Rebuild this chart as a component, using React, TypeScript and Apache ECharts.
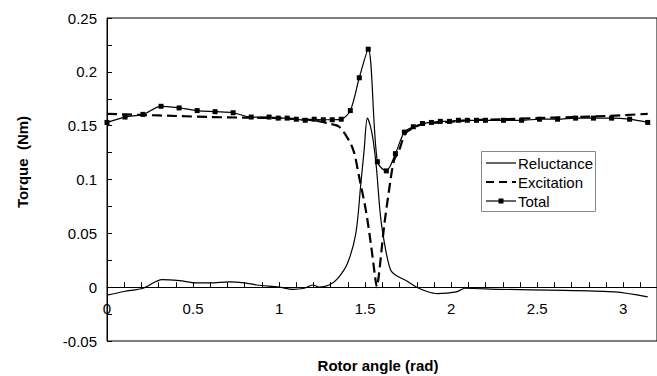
import React, { useEffect, useRef } from "react";
import * as echarts from "echarts";

// Rotor angle (rad) / torque (Nm)
const relAngle = [0, 0.1, 0.21, 0.32, 0.42, 0.52, 0.6, 0.71, 0.8, 0.87, 1.0, 1.08, 1.146, 1.195, 1.233, 1.29, 1.34, 1.397, 1.446, 1.475, 1.494, 1.513, 1.53, 1.546, 1.565, 1.59, 1.62, 1.648, 1.678, 1.735, 1.8, 1.86, 1.92, 2.03, 2.08, 2.28, 2.66, 2.95, 3.142];
const relTorque = [-0.0074, -0.004, -0.001, 0.007, 0.006, 0.004, 0.004, 0.005, 0.004, 0.002, 0.0, -0.002, -0.001, 0.002, 0.0, 0.002, 0.008, 0.022, 0.05, 0.096, 0.127, 0.157, 0.15, 0.137, 0.112, 0.065, 0.034, 0.016, 0.011, 0.0065, 0.0, -0.004, -0.006, -0.0044, -0.001, -0.002, -0.003, -0.0044, -0.009];

const excAngle = [0, 0.2, 0.4, 0.6, 0.8, 1.0, 1.1, 1.2, 1.29, 1.349, 1.407, 1.436, 1.465, 1.504, 1.533, 1.558, 1.568, 1.581, 1.61, 1.639, 1.668, 1.697, 1.735, 1.793, 1.85, 1.95, 2.1, 2.3, 2.5, 2.7, 2.9, 3.142];
const excTorque = [0.161, 0.16, 0.159, 0.158, 0.1575, 0.157, 0.156, 0.155, 0.152, 0.149, 0.136, 0.125, 0.1025, 0.0716, 0.0406, 0.0096, 0.0, 0.013, 0.056, 0.09, 0.118, 0.127, 0.143, 0.149, 0.152, 0.153, 0.155, 0.156, 0.157, 0.158, 0.159, 0.161];

const totAngle = [0, 0.105, 0.209, 0.314, 0.419, 0.524, 0.628, 0.733, 0.838, 0.942, 0.995, 1.047, 1.1, 1.152, 1.204, 1.257, 1.309, 1.361, 1.414, 1.466, 1.518, 1.571, 1.623, 1.676, 1.728, 1.78, 1.833, 1.885, 1.937, 1.99, 2.042, 2.094, 2.147, 2.199, 2.304, 2.409, 2.513, 2.618, 2.723, 2.827, 2.932, 3.037, 3.142];
const totTorque = [0.153, 0.158, 0.1605, 0.168, 0.1665, 0.164, 0.163, 0.162, 0.158, 0.158, 0.157, 0.157, 0.156, 0.155, 0.156, 0.1555, 0.1555, 0.156, 0.164, 0.1945, 0.221, 0.1165, 0.108, 0.124, 0.144, 0.149, 0.152, 0.153, 0.154, 0.154, 0.155, 0.155, 0.155, 0.155, 0.155, 0.155, 0.156, 0.156, 0.157, 0.157, 0.157, 0.156, 0.153];

const seriesNames = ["Reluctance", "Excitation", "Total"];
const xTitle = "Rotor angle (rad)";
const yTitle = "Torque  (Nm)";

const zip = (a: number[], b: number[]) => a.map((v, i) => [v, b[i]]);
const FONT = "'Liberation Sans', Arial, sans-serif";

const Y_MIN = -0.05;
const Y_MAX = 0.25;
const GRID_TOP = 18;
const GRID_BOTTOM = 35;
const H = 376;

export default function App() {
  const ref = useRef<HTMLDivElement>(null);
  useEffect(() => {
    if (!ref.current) return;
    const chart = echarts.init(ref.current, undefined, { renderer: "svg" });
    const plotH = H - GRID_TOP - GRID_BOTTOM;
    const zeroOffset = -(plotH * (0 - Y_MIN)) / (Y_MAX - Y_MIN);

    const legX = 481, legY = 151, legW = 114, legH = 60;
    const rowY = [163, 182, 201];
    const lx0 = 486, lx1 = 516, tx = 518;

    const tickStyle = { color: "#000", width: 1, opacity: 1 };

    chart.setOption({
      animation: false,
      backgroundColor: "#fff",
      grid: {
        left: 107,
        top: GRID_TOP,
        bottom: GRID_BOTTOM,
        right: -2,
        show: true,
        borderColor: "#000",
        borderWidth: 1,
        z: 0,
      },
      xAxis: {
        type: "value",
        min: 0,
        max: 3.196,
        interval: 0.5,
        offset: zeroOffset,
        z: 10,
        axisLine: { show: true, onZero: false, lineStyle: { color: "#000", width: 1 } },
        axisTick: { show: true, inside: true, length: 5, lineStyle: tickStyle },
        minorTick: { show: true, splitNumber: 5, length: 5, lineStyle: tickStyle },
        splitLine: { show: false },
        axisLabel: {
          margin: 14,
          color: "#000",
          fontFamily: FONT,
          fontSize: 15,
          showMaxLabel: false,
          formatter: (v: number) => {
            const d = v * 2;
            return Math.abs(d - Math.round(d)) < 1e-6 && v <= 3.01 ? String(Math.round(d) / 2) : "";
          },
        },
      },
      yAxis: {
        type: "value",
        min: Y_MIN,
        max: Y_MAX,
        interval: 0.05,
        z: 10,
        axisLine: { show: true, onZero: false, lineStyle: { color: "#000", width: 1 } },
        axisTick: { show: true, inside: true, length: 5, lineStyle: tickStyle },
        minorTick: { show: true, splitNumber: 2, length: 5, lineStyle: tickStyle },
        splitLine: { show: false },
        axisLabel: {
          margin: 10,
          color: "#000",
          fontFamily: FONT,
          fontSize: 15,
          formatter: (v: number) => String(Math.round(v * 100) / 100),
        },
      },
      graphic: [
        {
          type: "text",
          x: 378,
          y: 365,
          style: {
            text: xTitle,
            font: `bold 15px ${FONT}`,
            fill: "#000",
            textAlign: "center",
            textVerticalAlign: "middle",
          },
        },
        {
          type: "text",
          x: 22,
          y: 162,
          rotation: Math.PI / 2,
          style: {
            text: yTitle,
            font: `bold 15px ${FONT}`,
            fill: "#000",
            textAlign: "center",
            textVerticalAlign: "middle",
          },
        },
        {
          type: "group",
          z: 100,
          children: [
            {
              type: "rect",
              shape: { x: legX + 0.5, y: legY + 0.5, width: legW, height: legH },
              style: { fill: "#fff", stroke: "#888", lineWidth: 1 },
            },
            {
              type: "line",
              shape: { x1: lx0, y1: rowY[0], x2: lx1, y2: rowY[0] },
              style: { stroke: "#000", lineWidth: 1.2 },
            },
            {
              type: "line",
              shape: { x1: lx0, y1: rowY[1], x2: lx1, y2: rowY[1] },
              style: { stroke: "#000", lineWidth: 2.2, lineDash: [8, 5] },
            },
            {
              type: "line",
              shape: { x1: lx0, y1: rowY[2], x2: lx1, y2: rowY[2] },
              style: { stroke: "#000", lineWidth: 1.2 },
            },
            {
              type: "rect",
              shape: { x: (lx0 + lx1) / 2 - 2.5, y: rowY[2] - 2.5, width: 5, height: 5 },
              style: { fill: "#000" },
            },
            ...seriesNames.map((name, i) => ({
              type: "text",
              x: tx,
              y: rowY[i],
              style: {
                text: name,
                font: `15px ${FONT}`,
                fill: "#000",
                textAlign: "left",
                textVerticalAlign: "middle",
              },
            })),
          ],
        },
      ],
      series: [
        {
          name: seriesNames[0],
          type: "line",
          data: zip(relAngle, relTorque),
          smooth: 0.3,
          symbol: "none",
          lineStyle: { color: "#000", width: 1.2 },
          itemStyle: { color: "#000" },
        },
        {
          name: seriesNames[1],
          type: "line",
          data: zip(excAngle, excTorque),
          smooth: 0.3,
          symbol: "none",
          lineStyle: { color: "#000", width: 2.2, type: [10, 5] },
          itemStyle: { color: "#000" },
        },
        {
          name: seriesNames[2],
          type: "line",
          data: zip(totAngle, totTorque),
          smooth: 0.3,
          symbol: "rect",
          symbolSize: 5,
          lineStyle: { color: "#000", width: 1.2 },
          itemStyle: { color: "#000" },
        },
      ],
    });
    return () => chart.dispose();
  }, []);
  return (
    <div
      ref={ref}
      style={{ position: "fixed", left: 0, top: 0, width: 657, height: 376 }}
    />
  );
}
